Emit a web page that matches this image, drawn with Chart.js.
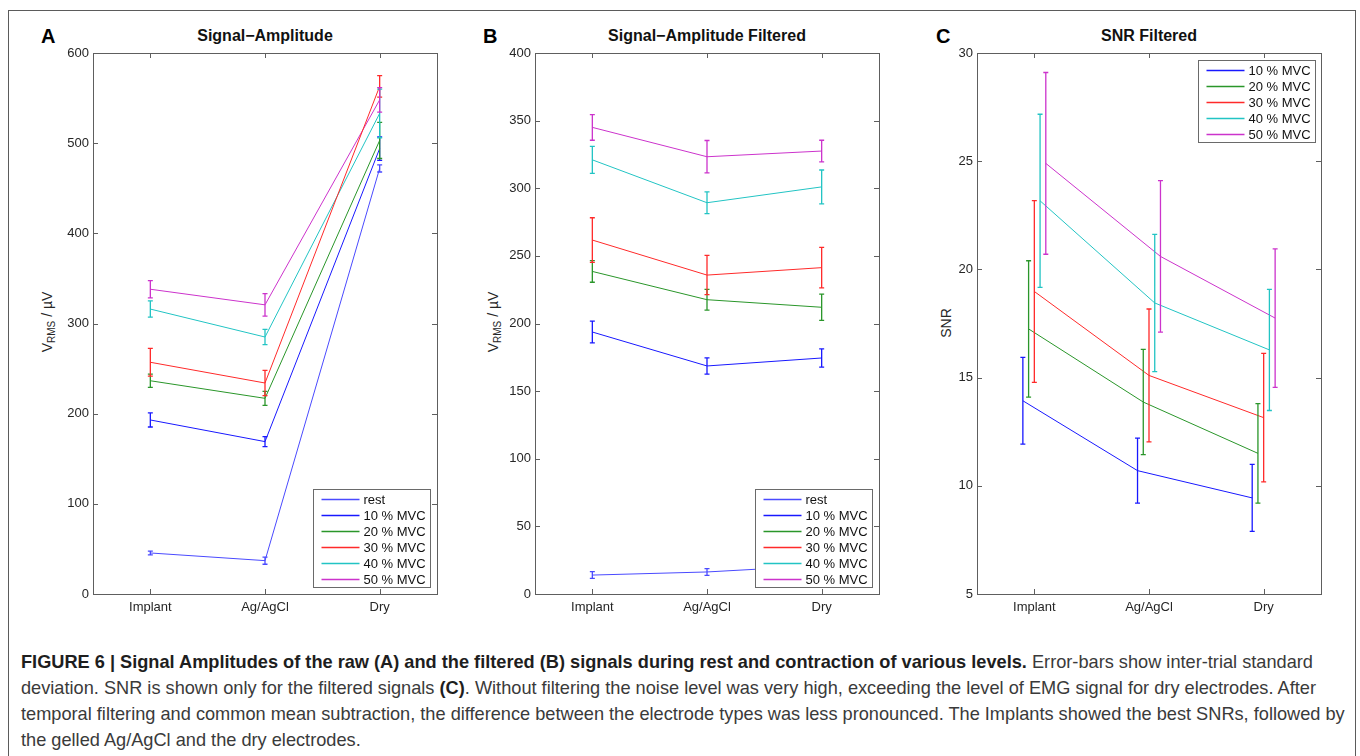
<!DOCTYPE html>
<html>
<head>
<meta charset="utf-8">
<script src="https://cdn.jsdelivr.net/npm/chart.js@4.4.1/dist/chart.umd.min.js"></script>
<style>
  body { margin: 0; width: 1360px; height: 756px; background: #fff; position: relative; overflow: hidden;
         font-family: "Liberation Sans", Arial, sans-serif; }
  .frame { position: absolute; left: 8px; top: 10px; width: 1348px; height: 800px;
           border: 1.5px solid #5b5b5b; box-sizing: border-box; }
  canvas { position: absolute; }
  .ttl { position: absolute; top: 27px; font-weight: bold; font-size: 16px; line-height: 18px; color: #111;
         transform: translateX(-50%); white-space: nowrap; }
  .lett { position: absolute; top: 25px; font-weight: bold; font-size: 20px; line-height: 22px; color: #000; }
  .ylab { position: absolute; font-size: 14px; color: #262626; white-space: nowrap;
          transform: translate(-50%, -50%) rotate(-90deg); }
  .ylab sub { font-size: 10px; }
  .caption { position: absolute; left: 21px; top: 649px; width: 1330px; font-size: 18.2px; line-height: 26px;
             color: #3a3a3a; }
  .caption b { color: #1e1e1e; }
</style>
</head>
<body>
<div class="frame"></div>

<div class="lett" style="left:41px">A</div>
<div class="ttl" style="left:265px">Signal−Amplitude</div>
<div class="ylab" style="left:48px; top:322px">V<sub>RMS</sub> / µV</div>
<canvas id="chartA" width="410" height="585" style="left:40px; top:40px"></canvas>

<div class="lett" style="left:483px">B</div>
<div class="ttl" style="left:707px">Signal−Amplitude Filtered</div>
<div class="ylab" style="left:494px; top:322px">V<sub>RMS</sub> / µV</div>
<canvas id="chartB" width="410" height="585" style="left:482px; top:40px"></canvas>

<div class="lett" style="left:936px">C</div>
<div class="ttl" style="left:1149px">SNR Filtered</div>
<div class="ylab" style="left:946px; top:323px">SNR</div>
<canvas id="chartC" width="410" height="585" style="left:924px; top:40px"></canvas>

<div class="caption"><b>FIGURE 6 | Signal Amplitudes of the raw (A) and the filtered (B) signals during rest and contraction of various levels.</b> Error-bars show inter-trial standard deviation. SNR is shown only for the filtered signals <b>(C)</b>. Without filtering the noise level was very high, exceeding the level of EMG signal for dry electrodes. After temporal filtering and common mean subtraction, the difference between the electrode types was less pronounced. The Implants showed the best SNRs, followed by the gelled Ag/AgCl and the dry electrodes.</div>

<script>
const categories = ['Implant', 'Ag/AgCl', 'Dry'];
const levelLabels = ['rest', '10 % MVC', '20 % MVC', '30 % MVC', '40 % MVC', '50 % MVC'];

// panel A: raw signal amplitude (µV), mean and SD per level
const rawMean = [
  [45.5, 37, 472],
  [193, 169, 494],
  [236.5, 217, 503],
  [257, 234, 563],
  [316, 285, 533],
  [338, 320.7, 548]
];
const rawSd = [
  [2, 4, 4],
  [7.8, 5.5, 13],
  [7.4, 7.8, 20],
  [15.4, 14, 12],
  [9, 8.5, 27],
  [9.5, 12.5, 13.5]
];

// panel B: filtered signal amplitude (µV)
const filtMean = [
  [14, 16.3, 21],
  [193.7, 168.6, 174.5],
  [238.5, 217.6, 212],
  [261.7, 235.8, 241.3],
  [321, 289.3, 301],
  [345, 323.3, 327.5]
];
const filtSd = [
  [2.5, 2.5, 3],
  [8, 6, 6.7],
  [8, 7.7, 9.7],
  [16.5, 14.5, 15],
  [10, 8, 12.5],
  [9.5, 12, 8]
];

// panel C: SNR of filtered signals (no rest)
const snrMean = [
  [13.93, 10.7, 9.44],
  [17.25, 13.87, 11.5],
  [18.98, 15.1, 13.15],
  [23.17, 18.45, 16.28],
  [24.9, 20.6, 17.75]
];
const snrSd = [
  [2.0, 1.5, 1.55],
  [3.15, 2.43, 2.3],
  [4.2, 3.07, 2.97],
  [4.0, 3.17, 2.8],
  [4.2, 3.5, 3.2]
];

const levelColors = ['#4a4aff', '#1818ff', '#2a962a', '#ff2a2a', '#22c4c4', '#cc33cc'];
const snrDodge = 0.05;
const fontFamily = '"Liberation Sans", Arial, sans-serif';
const axisColor = '#5e5e5e';

const framePlugin = {
  id: 'frame',
  afterDatasetsDraw(chart) {
    const { ctx, chartArea: a, scales } = chart;
    ctx.save();
    ctx.strokeStyle = axisColor;
    ctx.lineWidth = 1;
    ctx.strokeRect(Math.round(a.left) + 0.5, Math.round(a.top) + 0.5,
                   Math.round(a.right - a.left), Math.round(a.bottom - a.top));
    ctx.beginPath();
    scales.y.ticks.forEach(t => {
      const y = Math.round(scales.y.getPixelForValue(t.value)) + 0.5;
      ctx.moveTo(a.left, y); ctx.lineTo(a.left + 5, y);
      ctx.moveTo(a.right - 5, y); ctx.lineTo(a.right, y);
    });
    scales.x.ticks.forEach(t => {
      const x = Math.round(scales.x.getPixelForValue(t.value)) + 0.5;
      ctx.moveTo(x, a.bottom); ctx.lineTo(x, a.bottom - 5);
      ctx.moveTo(x, a.top); ctx.lineTo(x, a.top + 5);
    });
    ctx.stroke();
    ctx.restore();
  }
};

const errorBarPlugin = {
  id: 'errorBars',
  afterDatasetsDraw(chart) {
    const { ctx } = chart;
    const ys = chart.scales.y;
    chart.data.datasets.forEach((ds, i) => {
      const meta = chart.getDatasetMeta(i);
      ctx.save();
      ctx.strokeStyle = ds.borderColor;
      ctx.lineWidth = 1.3;
      ctx.beginPath();
      meta.data.forEach((pt, j) => {
        const v = ds.data[j].y, e = ds.errors[j];
        const x = pt.x;
        const top = ys.getPixelForValue(v + e);
        const bot = ys.getPixelForValue(v - e);
        ctx.moveTo(x, top); ctx.lineTo(x, bot);
        ctx.moveTo(x - 2.5, top); ctx.lineTo(x + 2.5, top);
        ctx.moveTo(x - 2.5, bot); ctx.lineTo(x + 2.5, bot);
      });
      ctx.stroke();
      ctx.restore();
    });
  }
};

const boxLegendPlugin = {
  id: 'boxLegend',
  afterDraw(chart, args, opts) {
    const { ctx, chartArea: a } = chart;
    const items = chart.data.datasets;
    const rowH = 16, w = 117, h = items.length * rowH + 2;
    let bx, by;
    if (opts.corner === 'tr') {
      bx = a.right - 6 - w; by = a.top + 7;
    } else {
      bx = a.right - 7 - w; by = a.bottom - 7 - h;
    }
    bx = Math.round(bx) + 0.5; by = Math.round(by) + 0.5;
    ctx.save();
    ctx.fillStyle = '#fff';
    ctx.fillRect(bx, by, w, h);
    ctx.strokeStyle = '#6a6a6a';
    ctx.lineWidth = 1;
    ctx.strokeRect(bx, by, w, h);
    ctx.font = '13px ' + fontFamily;
    ctx.textBaseline = 'middle';
    items.forEach((ds, k) => {
      const cy = by + 10 + k * rowH;
      ctx.strokeStyle = ds.borderColor;
      ctx.lineWidth = 1.5;
      ctx.beginPath();
      ctx.moveTo(bx + 8, cy); ctx.lineTo(bx + 46, cy);
      ctx.stroke();
      ctx.fillStyle = '#111';
      ctx.fillText(ds.label, bx + 50, cy + 0.5);
    });
    ctx.restore();
  }
};

function buildDatasets(means, sds, labels, colors, dodge) {
  const n = means.length;
  return means.map((row, k) => {
    const shift = dodge ? (k - (n - 1) / 2) * dodge : 0;
    return {
      label: labels[k],
      data: row.map((v, j) => ({ x: j + 1 + shift, y: v })),
      errors: sds[k],
      borderColor: colors[k],
      borderWidth: 1,
      pointRadius: 0,
      tension: 0,
      fill: false
    };
  });
}

function panelConfig(datasets, yMin, yMax, yStep, corner) {
  return {
    type: 'line',
    data: { datasets: datasets },
    options: {
      responsive: false,
      animation: false,
      events: [],
      layout: { padding: { top: 13, right: 13, left: 0, bottom: 0 } },
      plugins: {
        legend: { display: false },
        tooltip: { enabled: false },
        boxLegend: { corner: corner }
      },
      scales: {
        x: {
          type: 'linear',
          min: 0.5,
          max: 3.5,
          afterBuildTicks: s => { s.ticks = categories.map((c, i) => ({ value: i + 1 })); },
          afterFit: s => { s.height = 31; },
          grid: { display: false, drawTicks: false },
          border: { display: false },
          ticks: {
            callback: v => categories[v - 1] || '',
            padding: 6,
            maxRotation: 0,
            autoSkip: false,
            color: '#262626',
            font: { size: 13, family: fontFamily }
          }
        },
        y: {
          min: yMin,
          max: yMax,
          afterFit: s => { s.width = 53; },
          grid: { display: false, drawTicks: false },
          border: { display: false },
          ticks: {
            stepSize: yStep,
            padding: 4,
            color: '#262626',
            font: { size: 13, family: fontFamily }
          }
        }
      }
    },
    plugins: [framePlugin, errorBarPlugin, boxLegendPlugin]
  };
}

new Chart(document.getElementById('chartA'),
  panelConfig(buildDatasets(rawMean, rawSd, levelLabels, levelColors, 0), 0, 600, 100, 'br'));

new Chart(document.getElementById('chartB'),
  panelConfig(buildDatasets(filtMean, filtSd, levelLabels, levelColors, 0), 0, 400, 50, 'br'));

new Chart(document.getElementById('chartC'),
  panelConfig(buildDatasets(snrMean, snrSd, levelLabels.slice(1), levelColors.slice(1), snrDodge), 5, 30, 5, 'tr'));
</script>
</body>
</html>
